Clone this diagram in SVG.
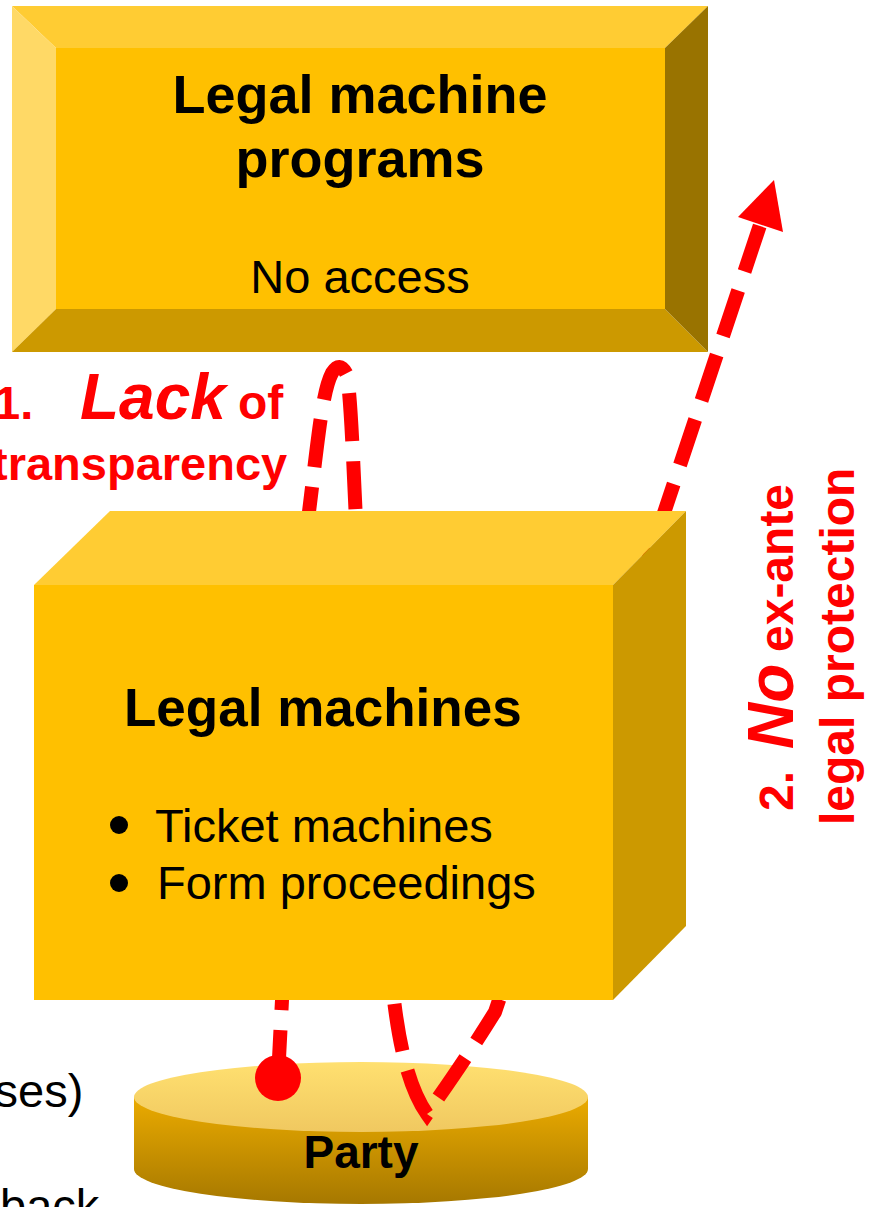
<svg xmlns="http://www.w3.org/2000/svg" width="876" height="1207" viewBox="0 0 876 1207">
<style>
text{font-family:"Liberation Sans",Arial,Helvetica,sans-serif;}
.b{font-weight:bold;}
.blk{fill:#000;}
.red{fill:#FF0000;font-weight:bold;}
.bi{font-weight:bold;font-style:italic;}
.dash{fill:none;stroke:#FF0000;stroke-width:14;stroke-dasharray:48 20;}
</style>
<defs>
<linearGradient id="topEl" x1="0" y1="0" x2="0" y2="1">
<stop offset="0" stop-color="#FFE070"/>
<stop offset="1" stop-color="#F0C860"/>
</linearGradient>
<linearGradient id="side" x1="0" y1="0" x2="0" y2="1">
<stop offset="0" stop-color="#EBAB00"/>
<stop offset="1" stop-color="#A67800"/>
</linearGradient>
</defs>
<rect width="876" height="1207" fill="#FFFFFF"/>

<g id="node-programs">
<polygon points="12,6 708,6 665,48 56,48" fill="#FFCC33"/>
<polygon points="12,6 56,48 56,309 12,352" fill="#FFD966"/>
<polygon points="12,352 56,309 665,309 708,352" fill="#CC9900"/>
<polygon points="708,6 708,352 665,309 665,48" fill="#997300"/>
<rect x="56" y="48" width="609" height="261" fill="#FFC000"/>
<text x="360" y="113" text-anchor="middle" font-size="54" class="b blk">Legal machine</text>
<text x="360" y="177" text-anchor="middle" font-size="54" class="b blk">programs</text>
<text x="360" y="293" text-anchor="middle" font-size="47" class="blk">No access</text>
</g>

<g id="node-party">
<path d="M134,1097 L134,1169 A227,35 0 0 0 588,1169 L588,1097 Z" fill="url(#side)"/>
<ellipse cx="361" cy="1097" rx="227" ry="35" fill="url(#topEl)"/>
<text x="361" y="1168" text-anchor="middle" font-size="46" class="b blk">Party</text>
</g>

<g id="connectors">
<path class="dash" d="M278,1078 L282,1000 L308,520 C318,440 322,392 332,373 Q340,360 347,375 C351,400 353,460 356,520 L394,1000 C400,1050 410,1090 427,1114 C440,1095 460,1068 495,1012 L665,510 L760,225"/>
<circle cx="278" cy="1078" r="23" fill="#FF0000"/>
<polygon points="774,180 738,217 783,232" fill="#FF0000"/>
</g>

<g id="node-machines">
<polygon points="34,585 110,511 686,511 613,585" fill="#FFCC33"/>
<polygon points="613,585 686,511 686,926 613,1000" fill="#CC9900"/>
<rect x="34" y="585" width="579" height="415" fill="#FFC000"/>
<text x="124" y="726" font-size="53" class="b blk">Legal machines</text>
<circle cx="119" cy="825" r="9" fill="#000"/>
<circle cx="119" cy="883" r="9" fill="#000"/>
<text x="155" y="842" font-size="47" class="blk">Ticket machines</text>
<text x="157" y="899" font-size="47" class="blk">Form proceedings</text>
</g>

<g id="label-1">
<text y="419" class="red"><tspan x="-6" font-size="47">1.</tspan><tspan x="80" font-size="64" font-style="italic">Lack</tspan><tspan x="238" font-size="48">of</tspan></text>
<text x="-8" y="480" font-size="47" class="red">transparency</text>
</g>

<g id="label-2" transform="rotate(-90)">
<text y="793" class="red"><tspan x="-811" font-size="48">2.</tspan><tspan x="-749" font-size="64" font-style="italic">No</tspan><tspan x="-652" font-size="48">ex-ante</tspan></text>
<text x="-825" y="854" font-size="48" class="red">legal protection</text>
</g>

<g id="left-fragments">
<text x="-5.5" y="1107" font-size="47" class="blk">ses)</text>
<text x="0" y="1222" font-size="47" class="blk">back</text>
</g>
</svg>
